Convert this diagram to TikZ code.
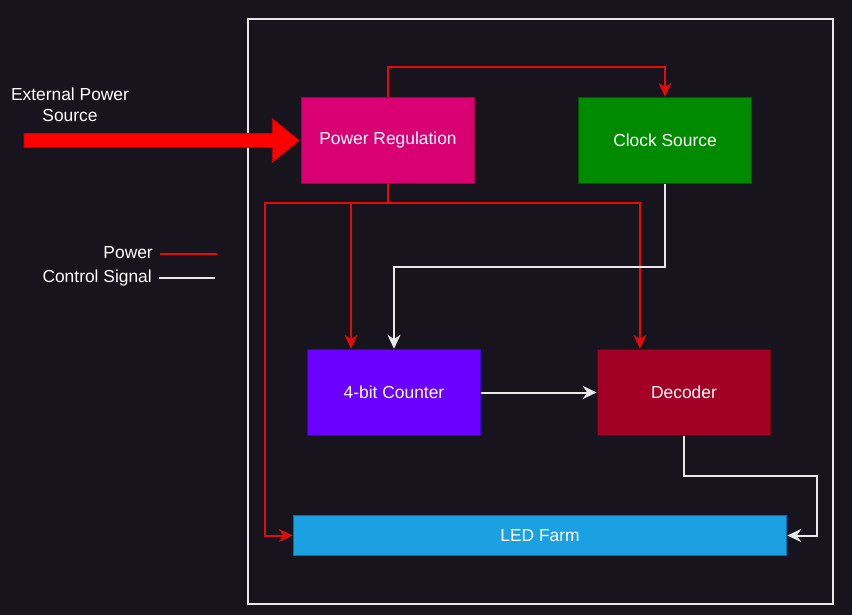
\documentclass[tikz,border=0pt]{standalone}
\usepackage{fontspec}
\setmainfont{Liberation Sans}
\usetikzlibrary{arrows.meta,calc}
\definecolor{bg}{RGB}{24,20,29}
\definecolor{pwc}{RGB}{226,12,12}
\definecolor{sigc}{RGB}{232,232,232}
\begin{document}
\begin{tikzpicture}[x=1pt,y=-1pt,
  font=\fontsize{17.4}{21}\selectfont,
  blk/.style={draw, line width=1.5pt, minimum width=173pt, minimum height=86pt, inner sep=0pt, text=white},
  pwline/.style={draw=pwc, line width=2pt},
  pw/.style={pwline, -{Stealth[length=14pt,width=13pt,inset=4.5pt]}},
  sigline/.style={draw=sigc, line width=2pt},
  sig/.style={sigline, -{Stealth[length=14pt,width=13pt,inset=4.5pt]}},
  lbl/.style={text=white, inner sep=0pt, align=center}]
\fill[bg] (0,0) rectangle (852,615);
\useasboundingbox (0,0) rectangle (852,615);
\node[draw=sigc, line width=2pt, minimum width=585pt, minimum height=585pt, inner sep=0pt] (frame) at (540.5,311.5) {};
\node[blk, fill={rgb,255:red,216;green,0;blue,115}, draw={rgb,255:red,165;green,0;blue,64}] (pr) at (388,140.5) {Power Regulation};
\node[blk, fill={rgb,255:red,0;green,138;blue,0}, draw={rgb,255:red,0;green,87;blue,0}] (cs) at (665,140.5) {Clock Source};
\node[blk, fill={rgb,255:red,106;green,0;blue,255}, draw={rgb,255:red,55;green,0;blue,204}] (cnt) at (394,392.5) {4-bit Counter};
\node[blk, fill={rgb,255:red,162;green,0;blue,37}, draw={rgb,255:red,111;green,0;blue,0}] (dec) at (684,392.5) {Decoder};
\node[blk, minimum width=493pt, minimum height=40pt, fill={rgb,255:red,27;green,161;blue,226}, draw={rgb,255:red,0;green,110;blue,175}] (led) at (540,535.5) {LED Farm};
% external power
\node[lbl] (ext) at (70,104.5) {External Power\\Source};
\coordinate (src) at (24,140.5);
\coordinate (tip) at ($(pr.west)+(-1.5,0)$);
\fill[red, draw={rgb,255:red,200;green,0;blue,0}, line width=0.6pt]
  (src) ++(0,-7) -- ($(tip)+(-27,-7)$) -- ($(tip)+(-27,-22)$) -- (tip) -- ($(tip)+(-27,22)$) -- ($(tip)+(-27,7)$) -- ($(src)+(0,7)$) -- cycle;
% legend
\node[lbl, anchor=east] (lp) at (153,253) {Power};
\coordinate (lpe) at (217,254);
\draw[pwline] ($(lp.east)+(7,1)$) -- (lpe);
\node[lbl, anchor=east] (lc) at (152,278) {Control Signal};
\coordinate (lce) at (215,278);
\draw[sigline] ($(lc.east)+(7,0)$) -- (lce);
% power connectors
\draw[pw] (pr.north) -- ++(0,-29.5) -| (cs.north);
\coordinate (j) at ($(pr.south)+(0,19)$);
\draw[pwline] (pr.south) -- (j);
\draw[pw] (j) -| ($(led.west)+(-28,0)$) -- (led.west);
\draw[pw] (j) -| ($(cnt.north)+(-43,0)$);
\draw[pw] (j) -| ($(dec.north)+(-44,0)$);
% control connectors
\draw[sig] (cs.south) -- ++(0,83) -| (cnt.north);
\draw[sig] (cnt.east) -- (dec.west);
\draw[sig] (dec.south) -- ++(0,40) -| ($(led.east)+(30,0)$) -- (led.east);
\end{tikzpicture}
\end{document}
